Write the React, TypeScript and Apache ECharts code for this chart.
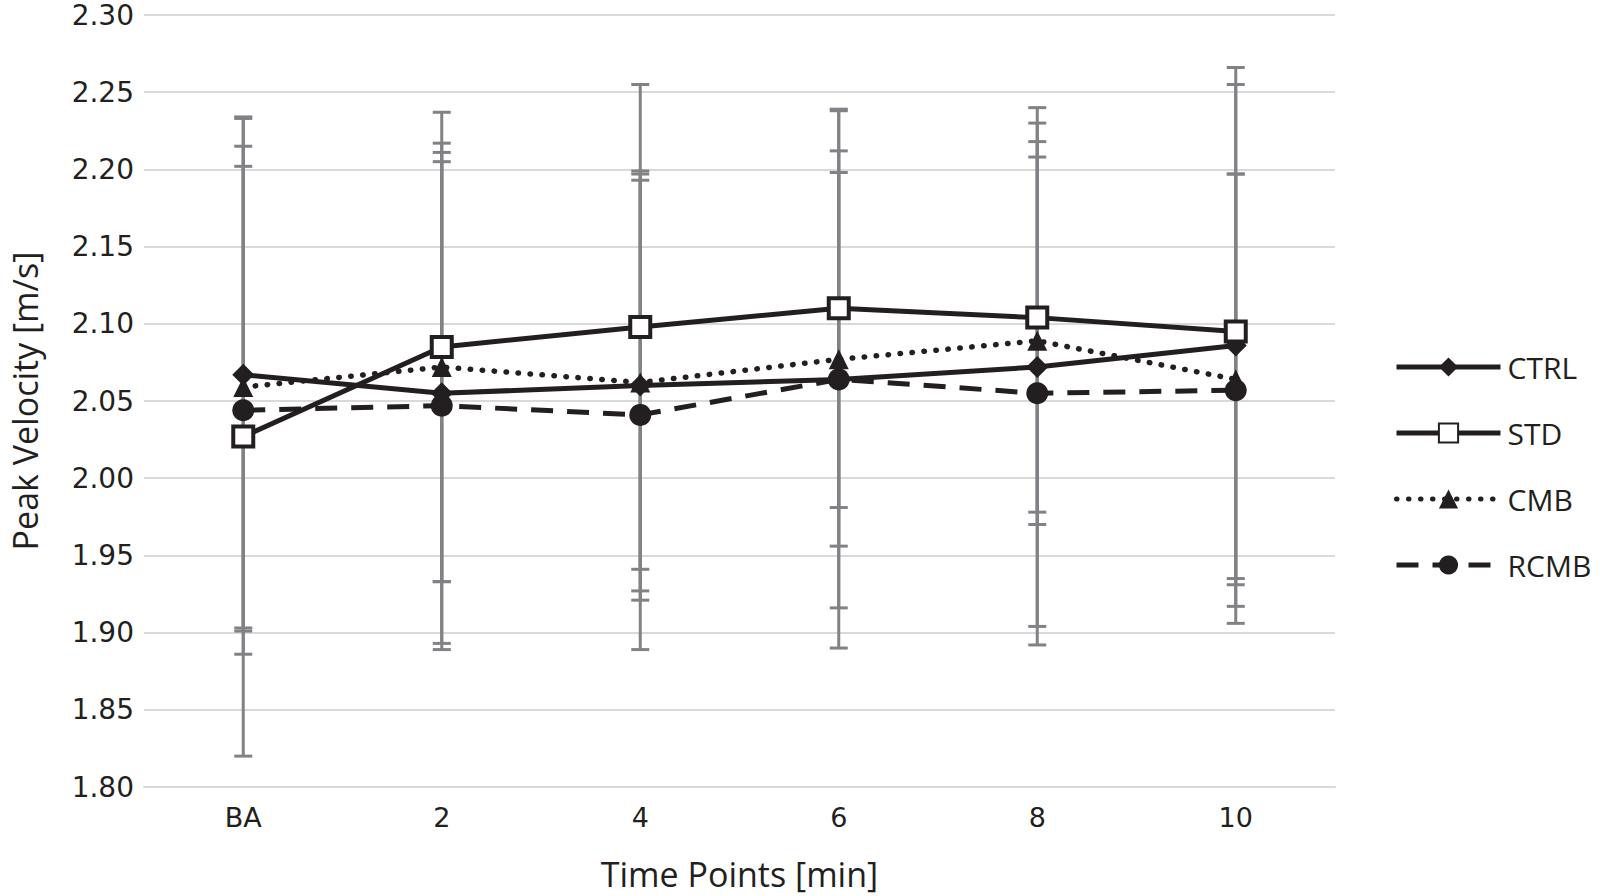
import React, { useEffect, useRef } from "react";
import * as echarts from "echarts";

const categories = ["BA", "2", "4", "6", "8", "10"];
const yTicks = ["1.80", "1.85", "1.90", "1.95", "2.00", "2.05", "2.10", "2.15", "2.20", "2.25", "2.30"];

const ctrlMean = [2.067, 2.055, 2.06, 2.064, 2.072, 2.086];
const ctrlSd = [0.166, 0.162, 0.139, 0.174, 0.168, 0.18];
const stdMean = [2.027, 2.085, 2.098, 2.11, 2.104, 2.095];
const stdSd = [0.207, 0.152, 0.157, 0.129, 0.126, 0.16];
const cmbMean = [2.059, 2.072, 2.062, 2.077, 2.089, 2.064];
const cmbSd = [0.156, 0.139, 0.135, 0.121, 0.119, 0.133];
const rcmbMean = [2.044, 2.047, 2.041, 2.064, 2.055, 2.057];
const rcmbSd = [0.158, 0.158, 0.152, 0.148, 0.163, 0.14];

const seriesNames = ["CTRL", "STD", "CMB", "RCMB"];

const FONT = "Open Sans";
const TICKFONT = "DejaVu Sans";
const INK = "#231f20";
const BAR = "#808285";

function errorData(mean: number[], sd: number[]) {
  return mean.map((m, i) => [i, m - sd[i], m + sd[i]]);
}

function errorSeries(name: string, mean: number[], sd: number[]) {
  return {
    type: "custom",
    name: name + " SD",
    z: 1,
    silent: true,
    data: errorData(mean, sd),
    encode: { x: 0, y: [1, 2] },
    renderItem: (params: any, api: any) => {
      const x = api.value(0);
      const lo = api.coord([x, api.value(1)]);
      const hi = api.coord([x, api.value(2)]);
      const half = 9;
      const style = { stroke: BAR, lineWidth: 3 };
      return {
        type: "group",
        children: [
          { type: "line", shape: { x1: lo[0], y1: lo[1], x2: hi[0], y2: hi[1] }, style },
          { type: "line", shape: { x1: hi[0] - half, y1: hi[1], x2: hi[0] + half, y2: hi[1] }, style },
          { type: "line", shape: { x1: lo[0] - half, y1: lo[1], x2: lo[0] + half, y2: lo[1] }, style },
        ],
      };
    },
  };
}

export default function App() {
  const ref = useRef<HTMLDivElement>(null);
  useEffect(() => {
    if (!ref.current) return;
    const chart = echarts.init(ref.current, undefined, { renderer: "svg" });
    chart.setOption({
      animation: false,
      backgroundColor: "#ffffff",
      textStyle: { fontFamily: FONT },
      grid: { left: 135, right: 265, top: 15, bottom: 109, containLabel: false },
      legend: {
        data: seriesNames,
        orient: "vertical",
        left: 1389,
        top: 347,
        itemWidth: 104,
        itemHeight: 24,
        itemGap: 36,
        lineStyle: { width: 5 },
        textStyle: { fontFamily: FONT, fontSize: 30, color: INK, padding: [0, 0, 0, 2] },
      },
      xAxis: {
        type: "category",
        data: categories,
        boundaryGap: true,
        name: "Time Points [min]",
        nameLocation: "middle",
        nameGap: 70,
        nameTextStyle: { fontFamily: FONT, fontSize: 34, color: INK },
        axisLine: { show: true, lineStyle: { color: "#d9d9d9", width: 2 } },
        axisTick: { show: false },
        axisLabel: { fontFamily: TICKFONT, fontSize: 27, color: INK, margin: 17 },
      },
      yAxis: {
        type: "value",
        min: 1.8,
        max: 2.3,
        interval: 0.05,
        name: "Peak Velocity [m/s]",
        nameLocation: "middle",
        nameGap: 102,
        nameRotate: 90,
        nameTextStyle: { fontFamily: FONT, fontSize: 34, color: INK },
        axisLine: { show: false },
        axisTick: { show: false },
        splitLine: { lineStyle: { color: "#d9d9d9", width: 2 } },
        axisLabel: {
          fontFamily: TICKFONT,
          fontSize: 28,
          color: INK,
          margin: 10,
          formatter: (v: number) => {
            const idx = Math.round((v - 1.8) / 0.05);
            return yTicks[idx] ?? v.toFixed(2);
          },
        },
      },
      series: [
        errorSeries("CTRL", ctrlMean, ctrlSd),
        errorSeries("STD", stdMean, stdSd),
        errorSeries("CMB", cmbMean, cmbSd),
        errorSeries("RCMB", rcmbMean, rcmbSd),
        {
          name: "RCMB",
          type: "line",
          z: 3,
          data: rcmbMean,
          symbol: "circle",
          symbolSize: 22,
          itemStyle: { color: INK },
          lineStyle: { color: INK, width: 5, type: [22, 14] },
        },
        {
          name: "CMB",
          type: "line",
          z: 4,
          data: cmbMean,
          symbol: "triangle",
          symbolSize: 20,
          itemStyle: { color: INK },
          lineStyle: { color: INK, width: 5.5, type: [0.5, 11.5], cap: "round" },
        },
        {
          name: "CTRL",
          type: "line",
          z: 5,
          data: ctrlMean,
          symbol: "diamond",
          symbolSize: 22,
          itemStyle: { color: INK },
          lineStyle: { color: INK, width: 5 },
        },
        {
          name: "STD",
          type: "line",
          z: 6,
          data: stdMean,
          symbol: "rect",
          symbolSize: 20,
          itemStyle: { color: "#ffffff", borderColor: INK, borderWidth: 4 },
          lineStyle: { color: INK, width: 5 },
        },
      ],
    });
    return () => chart.dispose();
  }, []);
  return (
    <div
      ref={ref}
      style={{ position: "fixed", left: 0, top: 0, width: 1600, height: 896, background: "#fff" }}
    />
  );
}
